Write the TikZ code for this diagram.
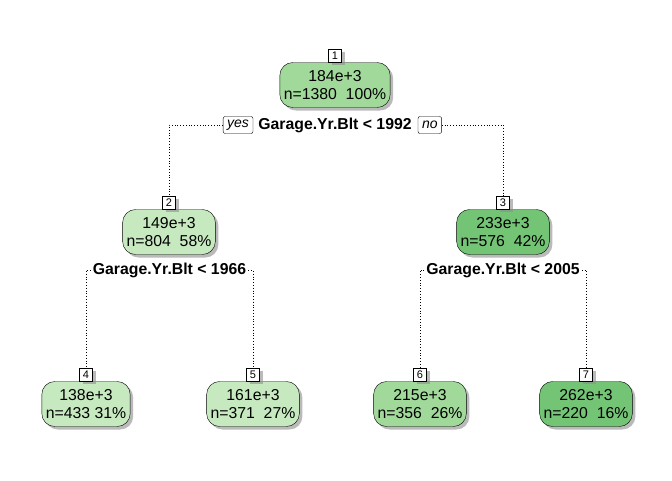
\documentclass[tikz,border=0pt]{standalone}
\usepackage{fontspec}
\setmainfont{Liberation Sans}
\usepackage{xcolor}
\usepackage{tikz}
\usetikzlibrary{shadows, positioning}

\definecolor{greenLow}{HTML}{C7E9C0}
\definecolor{greenMid}{HTML}{A1D99B}
\definecolor{greenHigh}{HTML}{74C476}

\begin{document}
\begin{tikzpicture}[
    x=1pt, y=-1pt,
    shade/.style={drop shadow={shadow xshift=3pt, shadow yshift=-3pt, fill=black!45, opacity=0.6}},
    leaf/.style={rectangle, draw, rounded corners=13pt, align=center, inner xsep=4pt, minimum height=45pt, font=\fontsize{15.8}{18}\selectfont, shade},
    num/.style={rectangle, draw, fill=white, inner sep=1pt, minimum width=13pt, minimum height=13pt, font=\fontsize{11}{11}\selectfont, anchor=south, shade},
    split/.style={font=\bfseries\fontsize{15.8}{18}\selectfont, inner sep=2pt},
    yesno/.style={rectangle, draw, fill=white, rounded corners=2pt, font=\itshape\fontsize{14}{14}\selectfont, inner xsep=4pt, inner ysep=2pt, minimum height=17pt},
    line/.style={draw, dotted, line width=0.8pt}
]
\useasboundingbox (0,0) rectangle (672,480);

% tree nodes
\node [leaf, fill=greenMid] (n1) at (335,85) {184e+3\\n=1380\ \ 100\%};
\node [leaf, fill=greenLow] (n2) at (169,232) {149e+3\\n=804\ \ 58\%};
\node [leaf, fill=greenHigh] (n3) at (503,232) {233e+3\\n=576\ \ 42\%};
\node [leaf, fill=greenLow] (n4) at (86,404) {138e+3\\n=433\ 31\%};
\node [leaf, fill=greenLow] (n5) at (253,404) {161e+3\\n=371\ \ 27\%};
\node [leaf, fill=greenMid] (n6) at (420,404) {215e+3\\n=356\ \ 26\%};
\node [leaf, fill=greenHigh] (n7) at (586,404) {262e+3\\n=220\ \ 16\%};

% node numbers
\node [num] (k1) at (n1.north) {1};
\node [num] (k2) at (n2.north) {2};
\node [num] (k3) at (n3.north) {3};
\node [num] (k4) at (n4.north) {4};
\node [num] (k5) at (n5.north) {5};
\node [num] (k6) at (n6.north) {6};
\node [num] (k7) at (n7.north) {7};

% split labels
\node [split] (s1) at (335,125) {Garage.Yr.Blt < 1992};
\node [yesno, left=3pt of s1] (yes) {yes};
\node [yesno, right=4pt of s1] (no) {no};
\node [split] (s2) at (169.5,270) {Garage.Yr.Blt < 1966};
\node [split] (s3) at (503,270) {Garage.Yr.Blt < 2005};

\path [line] (yes.west) -| (k2.north);
\path [line] (no.east) -| (k3.north);
\path [line] (s2.west) -| (k4.north);
\path [line] (s2.east) -| (k5.north);
\path [line] (s3.west) -| (k6.north);
\path [line] (s3.east) -| (k7.north);
\end{tikzpicture}
\end{document}
